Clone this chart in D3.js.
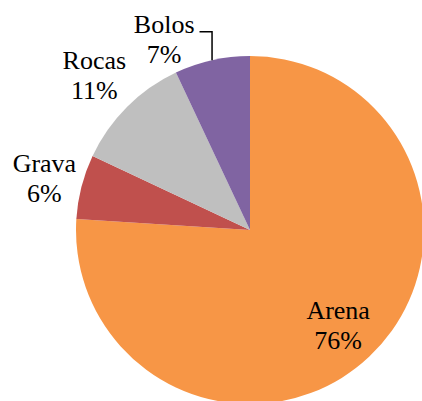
<!DOCTYPE html>
<html>
<head>
<meta charset="utf-8">
<script src="https://cdn.jsdelivr.net/npm/d3@7"></script>
<style>
  body { margin: 0; background: #fff; }
</style>
</head>
<body>
<svg id="chart-svg"></svg>
<script>
const categories = ["Arena", "Grava", "Rocas", "Bolos"];
const values = [76, 6, 11, 7];
const colors = ["#F79646", "#C0504D", "#BFBFBF", "#8064A2"];

const width = 422, height = 401;
const cx = 250, cy = 230, radius = 174;

const svg = d3.select("#chart-svg")
  .attr("width", width)
  .attr("height", height);

const g = svg.append("g")
  .attr("transform", "translate(" + cx + "," + cy + ")");

const data = categories.map(function(c, i) { return { name: c, value: values[i], color: colors[i] }; });

const pie = d3.pie()
  .sort(null)
  .value(function(d) { return d.value; });

const arc = d3.arc().innerRadius(0).outerRadius(radius);
const arcs = pie(data);

g.selectAll("path.slice")
  .data(arcs)
  .enter()
  .append("path")
  .attr("class", "slice")
  .attr("d", arc)
  .attr("fill", function(d) { return d.data.color; });

// label placement: big slice inside, small ones outside
function labelPos(d, i) {
  let a = (d.startAngle + d.endAngle) / 2;
  let r;
  if (i === 0) r = radius * 0.74;
  else if (d.data.name === "Bolos") { r = radius * 1.21; a -= 0.2; } // pulled left, has leader line
  else if (d.data.name === "Rocas") r = radius * 1.265;
  else r = radius * 1.22;
  return [Math.sin(a) * r, -Math.cos(a) * r];
}

const labels = g.selectAll("text.lbl")
  .data(arcs)
  .enter()
  .append("text")
  .attr("class", "lbl")
  .attr("text-anchor", "middle")
  .style("font-family", '"Liberation Serif", "Times New Roman", serif')
  .style("font-size", "26px")
  .attr("fill", "#000")
  .attr("transform", function(d, i) {
    const p = labelPos(d, i);
    return "translate(" + p[0] + "," + p[1] + ")";
  });

labels.append("tspan")
  .attr("x", 0)
  .attr("y", -5)
  .text(function(d) { return d.data.name; });

labels.append("tspan")
  .attr("x", 0)
  .attr("y", 25)
  .text(function(d) { return d.data.value + "%"; });

// leader line for Bolos
labels.each(function(d, i) {
  if (d.data.name !== "Bolos") return;
  const mid = (d.startAngle + d.endAngle) / 2;
  const ex = Math.sin(mid) * radius, ey = -Math.cos(mid) * radius;
  const p = labelPos(d, i);
  const w = this.firstChild.getComputedTextLength();
  const lx = p[0] + w / 2 + 5;
  const ly = p[1] - 6;
  g.append("path")
    .attr("d", "M" + lx + "," + ly + "H" + ex + "V" + ey)
    .attr("fill", "none")
    .attr("stroke", "#000")
    .attr("stroke-width", 1.5);
});
</script>
</body>
</html>
